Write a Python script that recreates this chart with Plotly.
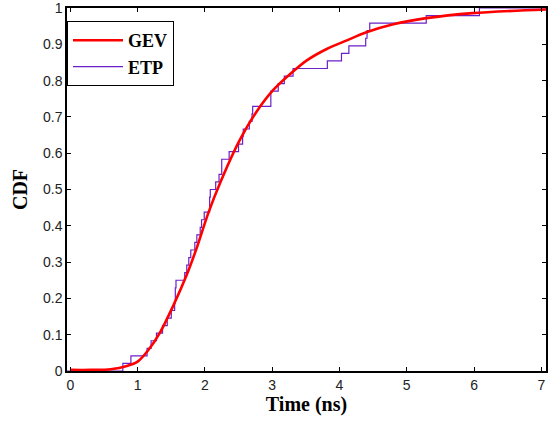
import plotly.graph_objects as go

# Empirical sample (ns), read from the ETP staircase (48 samples)
etp_times = [0.78, 0.90, 1.14, 1.20, 1.28, 1.37, 1.44, 1.50, 1.55, 1.56,
             1.56, 1.57, 1.70, 1.73, 1.76, 1.79, 1.85, 1.88, 1.93, 1.95,
             1.99, 2.07, 2.07, 2.08, 2.16, 2.21, 2.25, 2.25, 2.36, 2.50,
             2.56, 2.57, 2.66, 2.70, 2.71, 2.98, 2.98, 3.09, 3.18, 3.31,
             3.82, 4.03, 4.14, 4.39, 4.41, 4.45, 5.29, 6.08]

# GEV fitted curve
gev_x = [0.0, 0.3, 0.6, 0.84, 1.0, 1.16, 1.33, 1.53, 1.73, 1.88, 2.05, 2.23,
         2.5, 2.77, 3.02, 3.31, 3.51, 3.81, 4.1, 4.4, 4.8, 5.29, 5.98, 7.07]
gev_y = [0.003, 0.003, 0.005, 0.014, 0.026, 0.058, 0.105, 0.18, 0.265, 0.34,
         0.435, 0.52, 0.63, 0.715, 0.775, 0.825, 0.855, 0.887, 0.91, 0.933, 0.955,
         0.972, 0.986, 0.996]

x_ticks = [0, 1, 2, 3, 4, 5, 6, 7]
y_ticks = [0, 0.1, 0.2, 0.3, 0.4, 0.5, 0.6, 0.7, 0.8, 0.9, 1]
y_tick_text = ["0", "0.1", "0.2", "0.3", "0.4", "0.5", "0.6", "0.7", "0.8", "0.9", "1"]

x_range = [-0.05, 7.07]
y_range = [0, 1]

# build empirical CDF staircase
n = len(etp_times)
srt = sorted(etp_times)
ecdf_x = [x_range[0]] + srt + [x_range[1]]
ecdf_y = [0.0] + [(i + 1) / n for i in range(n)] + [1.0]

serif = "Liberation Serif, Times New Roman, serif"
sans = "Liberation Sans, Arial, sans-serif"

fig = go.Figure()
fig.add_trace(go.Scatter(
    x=ecdf_x, y=ecdf_y, mode="lines", name="<b>ETP</b>", legendrank=2,
    line=dict(color="#6a22c8", width=1.2, shape="hv"),
))
fig.add_trace(go.Scatter(
    x=gev_x, y=gev_y, mode="lines", name="<b>GEV</b>", legendrank=1,
    line=dict(color="#ff0000", width=2.6, shape="spline", smoothing=0.8),
))

axis_common = dict(
    showgrid=False, zeroline=False, showline=True, linecolor="black",
    linewidth=1.5, mirror="ticks", ticks="inside", ticklen=4,
    tickcolor="black", tickwidth=1, automargin=False,
    ticklabeloverflow="allow",
    tickfont=dict(family=sans, size=14, color="#222"),
)

fig.update_layout(
    width=548, height=432,
    margin=dict(l=67, r=2, t=8, b=61),
    paper_bgcolor="white", plot_bgcolor="white",
    xaxis=dict(range=x_range, tickvals=x_ticks,
               title=dict(text="<b>Time (ns)</b>", font=dict(family=serif, size=20, color="black"),
                          standoff=3),
               **axis_common),
    yaxis=dict(range=y_range, tickvals=y_ticks, ticktext=y_tick_text,
               title=dict(text="<b>CDF</b>", font=dict(family=serif, size=20, color="black"),
                          standoff=10),
               **axis_common),
    legend=dict(x=0, y=0.964, xanchor="left", yanchor="top",
                bgcolor="white", bordercolor="black", borderwidth=1,
                font=dict(family=serif, size=18, color="black"),
                tracegroupgap=0, itemwidth=50),
    showlegend=True,
)

fig.write_html("out.html", config={"displayModeBar": False},
               post_script="document.body.style.margin='0';document.body.style.padding='0';")
